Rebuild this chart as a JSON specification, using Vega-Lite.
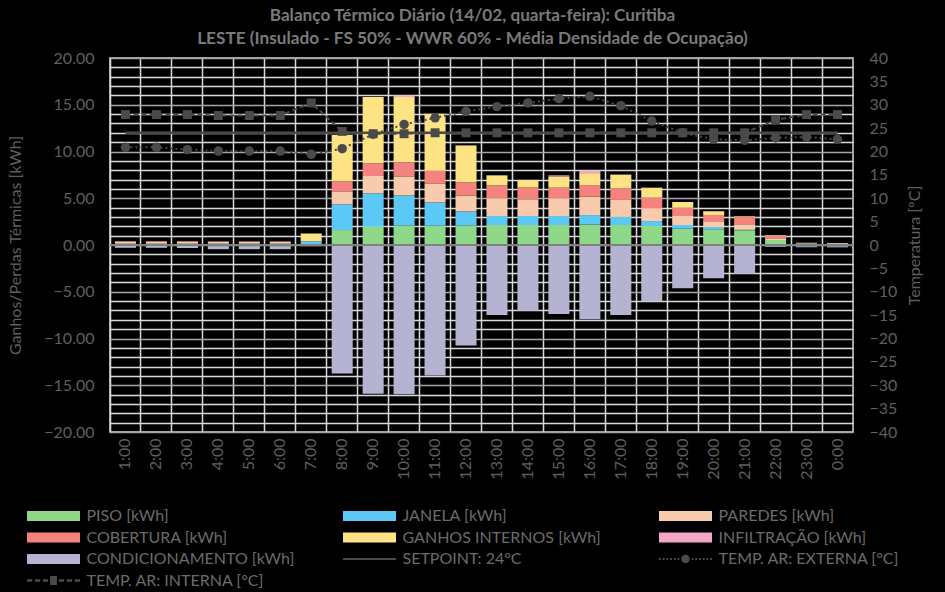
{
  "$schema": "https://vega.github.io/schema/vega-lite/v6.json",
  "width": 743,
  "height": 374,
  "autosize": "none",
  "padding": {"left": 110, "top": 58, "right": 92, "bottom": 160},
  "background": "#000000",
  "config": {
    "font": "Lato",
    "view": {"stroke": "#d9d9d9", "strokeWidth": 1.5},
    "axis": {"labelFont": "Lato", "titleFont": "Lato", "labelColor": "#5f5f5f", "titleColor": "#5f5f5f", "labelFontSize": 16, "titleFontSize": 16, "titleFontWeight": "normal", "domain": false, "ticks": false, "labelOverlap": false}
  },
  "title": {
    "text": ["Balanço Térmico Diário (14/02, quarta-feira): Curitiba", "LESTE (Insulado - FS 50% - WWR 60% - Média Densidade de Ocupação)"],
    "font": "Lato", "fontSize": 17.2, "fontWeight": "bold", "color": "#7a7a7a", "lineHeight": 23, "offset": 3, "dx": -9
  },
  "datasets": {
    "barras": [
      {"hora": "1:00", "serie": "PISO [kWh]", "valor": 0.2},
      {"hora": "1:00", "serie": "JANELA [kWh]", "valor": -0.1},
      {"hora": "1:00", "serie": "PAREDES [kWh]", "valor": 0.15},
      {"hora": "1:00", "serie": "COBERTURA [kWh]", "valor": 0.08},
      {"hora": "1:00", "serie": "CONDICIONAMENTO [kWh]", "valor": -0.2},
      {"hora": "2:00", "serie": "PISO [kWh]", "valor": 0.2},
      {"hora": "2:00", "serie": "JANELA [kWh]", "valor": -0.1},
      {"hora": "2:00", "serie": "PAREDES [kWh]", "valor": 0.15},
      {"hora": "2:00", "serie": "COBERTURA [kWh]", "valor": 0.08},
      {"hora": "2:00", "serie": "CONDICIONAMENTO [kWh]", "valor": -0.2},
      {"hora": "3:00", "serie": "PISO [kWh]", "valor": 0.2},
      {"hora": "3:00", "serie": "JANELA [kWh]", "valor": -0.1},
      {"hora": "3:00", "serie": "PAREDES [kWh]", "valor": 0.14},
      {"hora": "3:00", "serie": "COBERTURA [kWh]", "valor": 0.08},
      {"hora": "3:00", "serie": "CONDICIONAMENTO [kWh]", "valor": -0.22},
      {"hora": "4:00", "serie": "PISO [kWh]", "valor": 0.2},
      {"hora": "4:00", "serie": "JANELA [kWh]", "valor": -0.12},
      {"hora": "4:00", "serie": "PAREDES [kWh]", "valor": 0.12},
      {"hora": "4:00", "serie": "COBERTURA [kWh]", "valor": 0.07},
      {"hora": "4:00", "serie": "CONDICIONAMENTO [kWh]", "valor": -0.33},
      {"hora": "5:00", "serie": "PISO [kWh]", "valor": 0.2},
      {"hora": "5:00", "serie": "JANELA [kWh]", "valor": -0.12},
      {"hora": "5:00", "serie": "PAREDES [kWh]", "valor": 0.12},
      {"hora": "5:00", "serie": "COBERTURA [kWh]", "valor": 0.07},
      {"hora": "5:00", "serie": "CONDICIONAMENTO [kWh]", "valor": -0.33},
      {"hora": "6:00", "serie": "PISO [kWh]", "valor": 0.2},
      {"hora": "6:00", "serie": "JANELA [kWh]", "valor": -0.12},
      {"hora": "6:00", "serie": "PAREDES [kWh]", "valor": 0.12},
      {"hora": "6:00", "serie": "COBERTURA [kWh]", "valor": 0.07},
      {"hora": "6:00", "serie": "CONDICIONAMENTO [kWh]", "valor": -0.33},
      {"hora": "7:00", "serie": "PISO [kWh]", "valor": 0.05},
      {"hora": "7:00", "serie": "JANELA [kWh]", "valor": 0.35},
      {"hora": "7:00", "serie": "PAREDES [kWh]", "valor": 0.03},
      {"hora": "7:00", "serie": "GANHOS INTERNOS [kWh]", "valor": 0.8},
      {"hora": "7:00", "serie": "CONDICIONAMENTO [kWh]", "valor": -0.12},
      {"hora": "8:00", "serie": "PISO [kWh]", "valor": 1.6},
      {"hora": "8:00", "serie": "JANELA [kWh]", "valor": 2.75},
      {"hora": "8:00", "serie": "PAREDES [kWh]", "valor": 1.39},
      {"hora": "8:00", "serie": "COBERTURA [kWh]", "valor": 1.07},
      {"hora": "8:00", "serie": "GANHOS INTERNOS [kWh]", "valor": 4.95},
      {"hora": "8:00", "serie": "CONDICIONAMENTO [kWh]", "valor": -13.75},
      {"hora": "9:00", "serie": "PISO [kWh]", "valor": 1.97},
      {"hora": "9:00", "serie": "JANELA [kWh]", "valor": 3.56},
      {"hora": "9:00", "serie": "PAREDES [kWh]", "valor": 1.85},
      {"hora": "9:00", "serie": "COBERTURA [kWh]", "valor": 1.36},
      {"hora": "9:00", "serie": "GANHOS INTERNOS [kWh]", "valor": 7.09},
      {"hora": "9:00", "serie": "CONDICIONAMENTO [kWh]", "valor": -15.9},
      {"hora": "10:00", "serie": "PISO [kWh]", "valor": 2.07},
      {"hora": "10:00", "serie": "JANELA [kWh]", "valor": 3.24},
      {"hora": "10:00", "serie": "PAREDES [kWh]", "valor": 2.03},
      {"hora": "10:00", "serie": "COBERTURA [kWh]", "valor": 1.5},
      {"hora": "10:00", "serie": "GANHOS INTERNOS [kWh]", "valor": 6.98},
      {"hora": "10:00", "serie": "INFILTRAÇÃO [kWh]", "valor": 0.18},
      {"hora": "10:00", "serie": "CONDICIONAMENTO [kWh]", "valor": -15.95},
      {"hora": "11:00", "serie": "PISO [kWh]", "valor": 2.07},
      {"hora": "11:00", "serie": "JANELA [kWh]", "valor": 2.49},
      {"hora": "11:00", "serie": "PAREDES [kWh]", "valor": 2.03},
      {"hora": "11:00", "serie": "COBERTURA [kWh]", "valor": 1.39},
      {"hora": "11:00", "serie": "GANHOS INTERNOS [kWh]", "valor": 6.06},
      {"hora": "11:00", "serie": "CONDICIONAMENTO [kWh]", "valor": -13.95},
      {"hora": "12:00", "serie": "PISO [kWh]", "valor": 2.09},
      {"hora": "12:00", "serie": "JANELA [kWh]", "valor": 1.5},
      {"hora": "12:00", "serie": "PAREDES [kWh]", "valor": 1.71},
      {"hora": "12:00", "serie": "COBERTURA [kWh]", "valor": 1.39},
      {"hora": "12:00", "serie": "GANHOS INTERNOS [kWh]", "valor": 3.96},
      {"hora": "12:00", "serie": "CONDICIONAMENTO [kWh]", "valor": -10.75},
      {"hora": "13:00", "serie": "PISO [kWh]", "valor": 2.14},
      {"hora": "13:00", "serie": "JANELA [kWh]", "valor": 0.96},
      {"hora": "13:00", "serie": "PAREDES [kWh]", "valor": 1.89},
      {"hora": "13:00", "serie": "COBERTURA [kWh]", "valor": 1.39},
      {"hora": "13:00", "serie": "GANHOS INTERNOS [kWh]", "valor": 1.07},
      {"hora": "13:00", "serie": "CONDICIONAMENTO [kWh]", "valor": -7.49},
      {"hora": "14:00", "serie": "PISO [kWh]", "valor": 2.14},
      {"hora": "14:00", "serie": "JANELA [kWh]", "valor": 0.96},
      {"hora": "14:00", "serie": "PAREDES [kWh]", "valor": 1.79},
      {"hora": "14:00", "serie": "COBERTURA [kWh]", "valor": 1.25},
      {"hora": "14:00", "serie": "GANHOS INTERNOS [kWh]", "valor": 0.82},
      {"hora": "14:00", "serie": "CONDICIONAMENTO [kWh]", "valor": -7.02},
      {"hora": "15:00", "serie": "PISO [kWh]", "valor": 2.14},
      {"hora": "15:00", "serie": "JANELA [kWh]", "valor": 0.96},
      {"hora": "15:00", "serie": "PAREDES [kWh]", "valor": 1.89},
      {"hora": "15:00", "serie": "COBERTURA [kWh]", "valor": 1.14},
      {"hora": "15:00", "serie": "GANHOS INTERNOS [kWh]", "valor": 1.18},
      {"hora": "15:00", "serie": "INFILTRAÇÃO [kWh]", "valor": 0.14},
      {"hora": "15:00", "serie": "CONDICIONAMENTO [kWh]", "valor": -7.38},
      {"hora": "16:00", "serie": "PISO [kWh]", "valor": 2.2},
      {"hora": "16:00", "serie": "JANELA [kWh]", "valor": 1.0},
      {"hora": "16:00", "serie": "PAREDES [kWh]", "valor": 1.96},
      {"hora": "16:00", "serie": "COBERTURA [kWh]", "valor": 1.25},
      {"hora": "16:00", "serie": "GANHOS INTERNOS [kWh]", "valor": 1.28},
      {"hora": "16:00", "serie": "INFILTRAÇÃO [kWh]", "valor": 0.25},
      {"hora": "16:00", "serie": "CONDICIONAMENTO [kWh]", "valor": -7.95},
      {"hora": "17:00", "serie": "PISO [kWh]", "valor": 2.14},
      {"hora": "17:00", "serie": "JANELA [kWh]", "valor": 0.86},
      {"hora": "17:00", "serie": "PAREDES [kWh]", "valor": 1.82},
      {"hora": "17:00", "serie": "COBERTURA [kWh]", "valor": 1.25},
      {"hora": "17:00", "serie": "GANHOS INTERNOS [kWh]", "valor": 1.46},
      {"hora": "17:00", "serie": "CONDICIONAMENTO [kWh]", "valor": -7.49},
      {"hora": "18:00", "serie": "PISO [kWh]", "valor": 2.03},
      {"hora": "18:00", "serie": "JANELA [kWh]", "valor": 0.53},
      {"hora": "18:00", "serie": "PAREDES [kWh]", "valor": 1.36},
      {"hora": "18:00", "serie": "COBERTURA [kWh]", "valor": 1.14},
      {"hora": "18:00", "serie": "GANHOS INTERNOS [kWh]", "valor": 1.07},
      {"hora": "18:00", "serie": "CONDICIONAMENTO [kWh]", "valor": -6.02},
      {"hora": "19:00", "serie": "PISO [kWh]", "valor": 1.75},
      {"hora": "19:00", "serie": "JANELA [kWh]", "valor": 0.39},
      {"hora": "19:00", "serie": "PAREDES [kWh]", "valor": 0.96},
      {"hora": "19:00", "serie": "COBERTURA [kWh]", "valor": 0.89},
      {"hora": "19:00", "serie": "GANHOS INTERNOS [kWh]", "valor": 0.6},
      {"hora": "19:00", "serie": "CONDICIONAMENTO [kWh]", "valor": -4.63},
      {"hora": "20:00", "serie": "PISO [kWh]", "valor": 1.68},
      {"hora": "20:00", "serie": "JANELA [kWh]", "valor": 0.25},
      {"hora": "20:00", "serie": "PAREDES [kWh]", "valor": 0.53},
      {"hora": "20:00", "serie": "COBERTURA [kWh]", "valor": 0.75},
      {"hora": "20:00", "serie": "GANHOS INTERNOS [kWh]", "valor": 0.39},
      {"hora": "20:00", "serie": "CONDICIONAMENTO [kWh]", "valor": -3.56},
      {"hora": "21:00", "serie": "PISO [kWh]", "valor": 1.57},
      {"hora": "21:00", "serie": "JANELA [kWh]", "valor": 0.05},
      {"hora": "21:00", "serie": "PAREDES [kWh]", "valor": 0.6},
      {"hora": "21:00", "serie": "COBERTURA [kWh]", "valor": 0.82},
      {"hora": "21:00", "serie": "GANHOS INTERNOS [kWh]", "valor": 0.05},
      {"hora": "21:00", "serie": "CONDICIONAMENTO [kWh]", "valor": -3.08},
      {"hora": "22:00", "serie": "PISO [kWh]", "valor": 0.53},
      {"hora": "22:00", "serie": "PAREDES [kWh]", "valor": 0.2},
      {"hora": "22:00", "serie": "COBERTURA [kWh]", "valor": 0.28},
      {"hora": "22:00", "serie": "GANHOS INTERNOS [kWh]", "valor": 0.05},
      {"hora": "22:00", "serie": "CONDICIONAMENTO [kWh]", "valor": -0.2},
      {"hora": "23:00", "serie": "PISO [kWh]", "valor": 0.15},
      {"hora": "23:00", "serie": "JANELA [kWh]", "valor": -0.15},
      {"hora": "23:00", "serie": "PAREDES [kWh]", "valor": 0.1},
      {"hora": "23:00", "serie": "CONDICIONAMENTO [kWh]", "valor": -0.1},
      {"hora": "0:00", "serie": "PISO [kWh]", "valor": 0.05},
      {"hora": "0:00", "serie": "JANELA [kWh]", "valor": -0.15},
      {"hora": "0:00", "serie": "PAREDES [kWh]", "valor": 0.15},
      {"hora": "0:00", "serie": "CONDICIONAMENTO [kWh]", "valor": -0.1}
    ],
    "temps": [
      {"hora": "1:00", "serie": "SETPOINT: 24°C", "temp": 24},
      {"hora": "2:00", "serie": "SETPOINT: 24°C", "temp": 24},
      {"hora": "3:00", "serie": "SETPOINT: 24°C", "temp": 24},
      {"hora": "4:00", "serie": "SETPOINT: 24°C", "temp": 24},
      {"hora": "5:00", "serie": "SETPOINT: 24°C", "temp": 24},
      {"hora": "6:00", "serie": "SETPOINT: 24°C", "temp": 24},
      {"hora": "7:00", "serie": "SETPOINT: 24°C", "temp": 24},
      {"hora": "8:00", "serie": "SETPOINT: 24°C", "temp": 24},
      {"hora": "9:00", "serie": "SETPOINT: 24°C", "temp": 24},
      {"hora": "10:00", "serie": "SETPOINT: 24°C", "temp": 24},
      {"hora": "11:00", "serie": "SETPOINT: 24°C", "temp": 24},
      {"hora": "12:00", "serie": "SETPOINT: 24°C", "temp": 24},
      {"hora": "13:00", "serie": "SETPOINT: 24°C", "temp": 24},
      {"hora": "14:00", "serie": "SETPOINT: 24°C", "temp": 24},
      {"hora": "15:00", "serie": "SETPOINT: 24°C", "temp": 24},
      {"hora": "16:00", "serie": "SETPOINT: 24°C", "temp": 24},
      {"hora": "17:00", "serie": "SETPOINT: 24°C", "temp": 24},
      {"hora": "18:00", "serie": "SETPOINT: 24°C", "temp": 24},
      {"hora": "19:00", "serie": "SETPOINT: 24°C", "temp": 24},
      {"hora": "20:00", "serie": "SETPOINT: 24°C", "temp": 24},
      {"hora": "21:00", "serie": "SETPOINT: 24°C", "temp": 24},
      {"hora": "22:00", "serie": "SETPOINT: 24°C", "temp": 24},
      {"hora": "23:00", "serie": "SETPOINT: 24°C", "temp": 24},
      {"hora": "0:00", "serie": "SETPOINT: 24°C", "temp": 24},
      {"hora": "1:00", "serie": "TEMP. AR: EXTERNA [°C]", "temp": 20.9},
      {"hora": "2:00", "serie": "TEMP. AR: EXTERNA [°C]", "temp": 20.9},
      {"hora": "3:00", "serie": "TEMP. AR: EXTERNA [°C]", "temp": 20.4},
      {"hora": "4:00", "serie": "TEMP. AR: EXTERNA [°C]", "temp": 20.1},
      {"hora": "5:00", "serie": "TEMP. AR: EXTERNA [°C]", "temp": 20.1},
      {"hora": "6:00", "serie": "TEMP. AR: EXTERNA [°C]", "temp": 20.1},
      {"hora": "7:00", "serie": "TEMP. AR: EXTERNA [°C]", "temp": 19.4},
      {"hora": "8:00", "serie": "TEMP. AR: EXTERNA [°C]", "temp": 20.6},
      {"hora": "9:00", "serie": "TEMP. AR: EXTERNA [°C]", "temp": 23.7},
      {"hora": "10:00", "serie": "TEMP. AR: EXTERNA [°C]", "temp": 25.8},
      {"hora": "11:00", "serie": "TEMP. AR: EXTERNA [°C]", "temp": 27.2},
      {"hora": "12:00", "serie": "TEMP. AR: EXTERNA [°C]", "temp": 28.6},
      {"hora": "13:00", "serie": "TEMP. AR: EXTERNA [°C]", "temp": 29.6},
      {"hora": "14:00", "serie": "TEMP. AR: EXTERNA [°C]", "temp": 30.4},
      {"hora": "15:00", "serie": "TEMP. AR: EXTERNA [°C]", "temp": 31.3},
      {"hora": "16:00", "serie": "TEMP. AR: EXTERNA [°C]", "temp": 31.8},
      {"hora": "17:00", "serie": "TEMP. AR: EXTERNA [°C]", "temp": 29.8},
      {"hora": "18:00", "serie": "TEMP. AR: EXTERNA [°C]", "temp": 26.5},
      {"hora": "19:00", "serie": "TEMP. AR: EXTERNA [°C]", "temp": 24.0},
      {"hora": "20:00", "serie": "TEMP. AR: EXTERNA [°C]", "temp": 22.6},
      {"hora": "21:00", "serie": "TEMP. AR: EXTERNA [°C]", "temp": 22.4},
      {"hora": "22:00", "serie": "TEMP. AR: EXTERNA [°C]", "temp": 22.9},
      {"hora": "23:00", "serie": "TEMP. AR: EXTERNA [°C]", "temp": 23.1},
      {"hora": "0:00", "serie": "TEMP. AR: EXTERNA [°C]", "temp": 22.6},
      {"hora": "1:00", "serie": "TEMP. AR: INTERNA [°C]", "temp": 27.9},
      {"hora": "2:00", "serie": "TEMP. AR: INTERNA [°C]", "temp": 27.9},
      {"hora": "3:00", "serie": "TEMP. AR: INTERNA [°C]", "temp": 27.9},
      {"hora": "4:00", "serie": "TEMP. AR: INTERNA [°C]", "temp": 27.7},
      {"hora": "5:00", "serie": "TEMP. AR: INTERNA [°C]", "temp": 27.7},
      {"hora": "6:00", "serie": "TEMP. AR: INTERNA [°C]", "temp": 27.7},
      {"hora": "7:00", "serie": "TEMP. AR: INTERNA [°C]", "temp": 30.4},
      {"hora": "8:00", "serie": "TEMP. AR: INTERNA [°C]", "temp": 24.3},
      {"hora": "9:00", "serie": "TEMP. AR: INTERNA [°C]", "temp": 23.8},
      {"hora": "10:00", "serie": "TEMP. AR: INTERNA [°C]", "temp": 23.8},
      {"hora": "11:00", "serie": "TEMP. AR: INTERNA [°C]", "temp": 24.0},
      {"hora": "12:00", "serie": "TEMP. AR: INTERNA [°C]", "temp": 24.0},
      {"hora": "13:00", "serie": "TEMP. AR: INTERNA [°C]", "temp": 24.0},
      {"hora": "14:00", "serie": "TEMP. AR: INTERNA [°C]", "temp": 24.0},
      {"hora": "15:00", "serie": "TEMP. AR: INTERNA [°C]", "temp": 24.0},
      {"hora": "16:00", "serie": "TEMP. AR: INTERNA [°C]", "temp": 24.0},
      {"hora": "17:00", "serie": "TEMP. AR: INTERNA [°C]", "temp": 24.0},
      {"hora": "18:00", "serie": "TEMP. AR: INTERNA [°C]", "temp": 24.0},
      {"hora": "19:00", "serie": "TEMP. AR: INTERNA [°C]", "temp": 24.0},
      {"hora": "20:00", "serie": "TEMP. AR: INTERNA [°C]", "temp": 24.0},
      {"hora": "21:00", "serie": "TEMP. AR: INTERNA [°C]", "temp": 24.0},
      {"hora": "22:00", "serie": "TEMP. AR: INTERNA [°C]", "temp": 26.8},
      {"hora": "23:00", "serie": "TEMP. AR: INTERNA [°C]", "temp": 27.9},
      {"hora": "0:00", "serie": "TEMP. AR: INTERNA [°C]", "temp": 27.9}
    ]
  },
  "layer": [
    {
      "data": {"name": "barras"},
      "layer": [
        {
          "transform": [{"calculate": "indexof(['PISO [kWh]','JANELA [kWh]','PAREDES [kWh]','COBERTURA [kWh]','GANHOS INTERNOS [kWh]','INFILTRAÇÃO [kWh]','CONDICIONAMENTO [kWh]'], datum.serie)", "as": "ordem"}],
          "mark": {"type": "bar", "width": {"band": 0.68}},
          "encoding": {
            "x": {
              "field": "hora", "type": "ordinal",
              "sort": ["1:00","2:00","3:00","4:00","5:00","6:00","7:00","8:00","9:00","10:00","11:00","12:00","13:00","14:00","15:00","16:00","17:00","18:00","19:00","20:00","21:00","22:00","23:00","0:00"],
              "scale": {"paddingInner": 0, "paddingOuter": 0},
              "axis": {"title": null, "labelAngle": -90, "grid": true, "gridColor": "#d9d9d9", "gridWidth": 1.5, "bandPosition": 0, "labelPadding": 6}
            },
            "y": {
              "field": "valor", "type": "quantitative", "stack": "zero",
              "scale": {"domain": [-20, 20], "nice": false, "zero": false},
              "axis": {
                "title": "Ganhos/Perdas Térmicas [kWh]",
                "values": [-20,-19,-18,-17,-16,-15,-14,-13,-12,-11,-10,-9,-8,-7,-6,-5,-4,-3,-2,-1,0,1,2,3,4,5,6,7,8,9,10,11,12,13,14,15,16,17,18,19,20],
                "tickCount": 60,
                "labelExpr": "datum.value % 5 === 0 ? format(datum.value, '.2f') : ''",
                "grid": true,
                "gridColor": {"condition": {"test": "datum.value % 5 === 0", "value": "#a6a6a6"}, "value": "#d9d9d9"},
                "gridWidth": 1.5,
                "labelPadding": 16,
                "titlePadding": 20
              }
            },
            "order": {"field": "ordem", "type": "quantitative", "sort": "ascending"},
            "color": {
              "field": "serie", "type": "nominal",
              "scale": {
                "domain": ["PISO [kWh]","JANELA [kWh]","PAREDES [kWh]","COBERTURA [kWh]","GANHOS INTERNOS [kWh]","INFILTRAÇÃO [kWh]","CONDICIONAMENTO [kWh]","SETPOINT: 24°C","TEMP. AR: EXTERNA [°C]","TEMP. AR: INTERNA [°C]"],
                "range": ["#8fd88a","#5bc8f5","#f8cbad","#f4827f","#fde384","#f4a6c6","#b4b4d2","#4a4a4a","#4a4a4a","#4a4a4a"]
              },
              "legend": {
                "title": null,
                "orient": "none",
                "direction": "horizontal",
                "legendX": -64.5,
                "legendY": 450,
                "columns": 3,
                "gridAlign": "all",
                "columnPadding": 48,
                "rowPadding": 5.5,
                "symbolSize": 100,
                "symbolStrokeWidth": 0,
                "symbolType": {"expr": "datum.value === 'SETPOINT: 24°C' ? 'M-5.3,-0.2H5.3V0.2H-5.3Z' : datum.value === 'TEMP. AR: EXTERNA [°C]' ? 'M-5.3,-0.185h0.37v0.37h-0.37z M-4.56,-0.185h0.37v0.37h-0.37z M-3.82,-0.185h0.37v0.37h-0.37z M-3.07,-0.185h0.37v0.37h-0.37z M-2.33,-0.185h0.37v0.37h-0.37z M-1.59,-0.185h0.37v0.37h-0.37z M1.22,-0.185h0.37v0.37h-0.37z M1.96,-0.185h0.37v0.37h-0.37z M2.7,-0.185h0.37v0.37h-0.37z M3.45,-0.185h0.37v0.37h-0.37z M4.19,-0.185h0.37v0.37h-0.37z M4.93,-0.185h0.37v0.37h-0.37z M-0.85,0A0.85,0.85 0 1,0 0.85,0A0.85,0.85 0 1,0 -0.85,0Z' : datum.value === 'TEMP. AR: INTERNA [°C]' ? 'M-5.3,-0.24h1.06v0.48h-1.06z M-3.71,-0.24h1.06v0.48h-1.06z M-2.12,-0.24h1.06v0.48h-1.06z M1.06,-0.24h1.06v0.48h-1.06z M2.65,-0.24h1.06v0.48h-1.06z M4.24,-0.24h1.06v0.48h-1.06z M-0.69,-0.9h1.38v1.8h-1.38z' : 'M-5.3,-1H5.3V1H-5.3Z'"},
                "labelFont": "Lato",
                "labelFontSize": 16,
                "labelColor": "#6b6b6b",
                "labelOffset": 25,
                "labelLimit": 400
              }
            }
          }
        },
        {
          "data": {"values": [{"zero": 0}]},
          "mark": {"type": "rule", "color": "#808080", "strokeWidth": 2},
          "encoding": {"y": {"field": "zero", "type": "quantitative"}}
        }
      ]
    },
    {
      "data": {"name": "temps"},
      "encoding": {
        "x": {
          "field": "hora", "type": "ordinal",
          "sort": ["1:00","2:00","3:00","4:00","5:00","6:00","7:00","8:00","9:00","10:00","11:00","12:00","13:00","14:00","15:00","16:00","17:00","18:00","19:00","20:00","21:00","22:00","23:00","0:00"],
          "axis": {"title": null, "labelAngle": -90, "grid": true, "gridColor": "#d9d9d9", "gridWidth": 1.5, "bandPosition": 0, "labelPadding": 6}
        },
        "y": {
          "field": "temp", "type": "quantitative",
          "scale": {"domain": [-40, 40], "nice": false, "zero": false},
          "axis": {"orient": "right", "title": "Temperatura [°C]", "titleAngle": -90, "values": [-40,-35,-30,-25,-20,-15,-10,-5,0,5,10,15,20,25,30,35,40], "tickCount": 30, "format": "d", "grid": false, "labelPadding": 16, "titlePadding": 26}
        },
        "color": {"field": "serie", "type": "nominal"}
      },
      "layer": [
        {"transform": [{"filter": "datum.serie === 'SETPOINT: 24°C'"}], "mark": {"type": "line", "strokeWidth": 2.5}},
        {"transform": [{"filter": "datum.serie === 'TEMP. AR: EXTERNA [°C]'"}], "mark": {"type": "line", "strokeWidth": 2, "strokeDash": [2, 3]}},
        {"transform": [{"filter": "datum.serie === 'TEMP. AR: EXTERNA [°C]'"}], "mark": {"type": "point", "filled": true, "shape": "circle", "size": 90, "opacity": 1}},
        {"transform": [{"filter": "datum.serie === 'TEMP. AR: INTERNA [°C]'"}], "mark": {"type": "line", "strokeWidth": 2, "strokeDash": [5, 3]}},
        {"transform": [{"filter": "datum.serie === 'TEMP. AR: INTERNA [°C]'"}], "mark": {"type": "point", "filled": true, "shape": "square", "size": 80, "opacity": 1}}
      ]
    }
  ],
  "resolve": {"scale": {"y": "independent"}}
}
